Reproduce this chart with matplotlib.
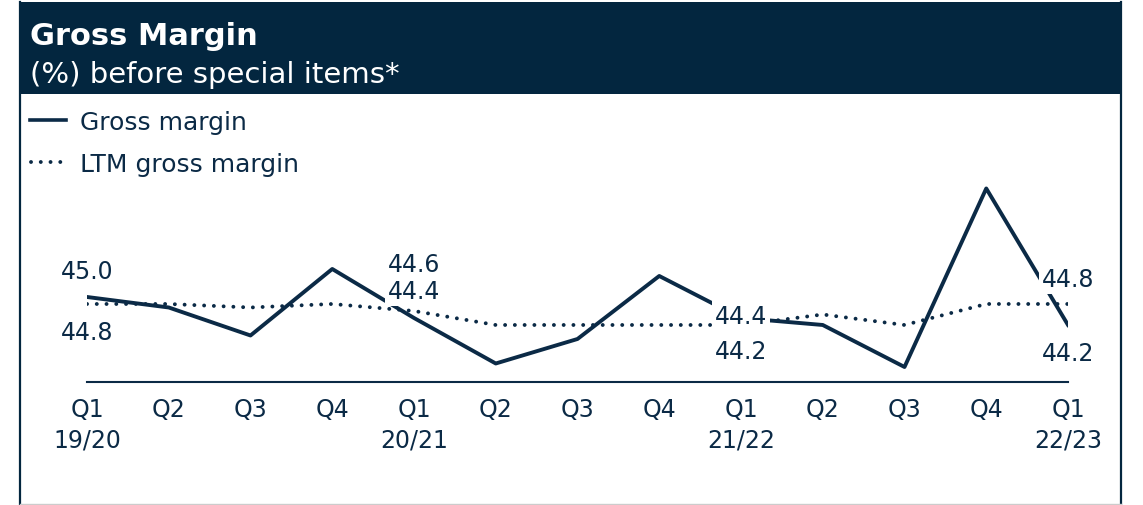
import matplotlib.pyplot as plt
from matplotlib.patches import Rectangle
from matplotlib.lines import Line2D

plt.rcParams['font.family'] = ['DejaVu Sans']

NAVY = '#0b2a46'
HEADER = '#03263f'
DOTS = (0, (0.01, 2.5))

quarters = ['Q1', 'Q2', 'Q3', 'Q4', 'Q1', 'Q2', 'Q3', 'Q4', 'Q1', 'Q2', 'Q3', 'Q4', 'Q1']
years = ['19/20', '', '', '', '20/21', '', '', '', '21/22', '', '', '', '22/23']
gross_margin = [45.0, 44.7, 43.9, 45.8, 44.4, 43.1, 43.8, 45.6, 44.4, 44.2, 43.0, 48.1, 44.2]
ltm_margin = [44.8, 44.8, 44.7, 44.8, 44.6, 44.2, 44.2, 44.2, 44.2, 44.5, 44.2, 44.8, 44.8]

# quarters that get value labels, with vertical offsets (pixels) for each series
label_idx = [0, 4, 8, 12]
gross_off = [26, 27, 2, -28]
ltm_off = [-28, 47, -26, 25]

W, H = 1143, 506
fig = plt.figure(figsize=(W / 100, H / 100), dpi=100)

# header band
fig.add_artist(Rectangle((19 / W, 1 - 95 / H), (1122 - 19) / W, 92 / H,
                         transform=fig.transFigure, fc=HEADER, ec='none'))
fig.text(30 / W, 1 - 45 / H, 'Gross Margin', fontsize=22, weight='bold',
         color='white', va='baseline')
fig.text(30 / W, 1 - 83 / H, '(%) before special items*', fontsize=21,
         color='white', va='baseline')

# frame
for xp in (20, 1121):
    fig.add_artist(Line2D([xp / W, xp / W], [0, 1 - 3 / H], transform=fig.transFigure,
                          color=HEADER, lw=1.6))
fig.add_artist(Line2D([20 / W, 1121 / W], [1.5 / H, 1.5 / H], transform=fig.transFigure,
                      color='#cccccc', lw=1))

# legend
fig.add_artist(Line2D([30 / W, 66 / W], [1 - 121 / H] * 2, transform=fig.transFigure,
                      color=NAVY, lw=2.6))
fig.add_artist(Line2D([31 / W, 62 / W], [1 - 163 / H] * 2, transform=fig.transFigure,
                      color=NAVY, lw=2.8, linestyle=DOTS, dash_capstyle='round'))
fig.text(80 / W, 1 - 130 / H, 'Gross margin', fontsize=18, color=NAVY, va='baseline')
fig.text(80 / W, 1 - 172 / H, 'LTM gross margin', fontsize=18, color=NAVY, va='baseline')

ax = fig.add_axes([87 / W, 1 - 383 / H, 981 / W, 203 / H])
ax.set_xlim(0, 12)
ax.set_ylim(42.571, 48.371)

x = list(range(len(quarters)))
ax.plot(x, gross_margin, color=NAVY, lw=2.8, zorder=2)
ax.plot(x, ltm_margin, color=NAVY, lw=2.8, linestyle=DOTS,
        dash_capstyle='round', zorder=2)

for i, go, lo in zip(label_idx, gross_off, ltm_off):
    for v, off in ((gross_margin[i], go), (ltm_margin[i], lo)):
        ax.annotate(f'{v:.1f}', (i, v), xytext=(0, off * 0.72), textcoords='offset points',
                    ha='center', va='center', fontsize=17, color=NAVY,
                    bbox=dict(boxstyle='square,pad=0.12', fc='white', ec='none'),
                    zorder=4, annotation_clip=False)

ax.set_xticks(x)
ax.set_xticklabels([q + ('\n' + y if y else '') for q, y in zip(quarters, years)])
ax.tick_params(axis='x', length=0, pad=11, labelsize=17, labelcolor=NAVY)
for t in ax.get_xticklabels():
    t.set_linespacing(1.35)
ax.set_yticks([])
for s in ('top', 'left', 'right'):
    ax.spines[s].set_visible(False)
ax.spines['bottom'].set_color(NAVY)
ax.spines['bottom'].set_linewidth(1.5)
ax.patch.set_alpha(0)

fig.savefig('out.png', dpi=100)
